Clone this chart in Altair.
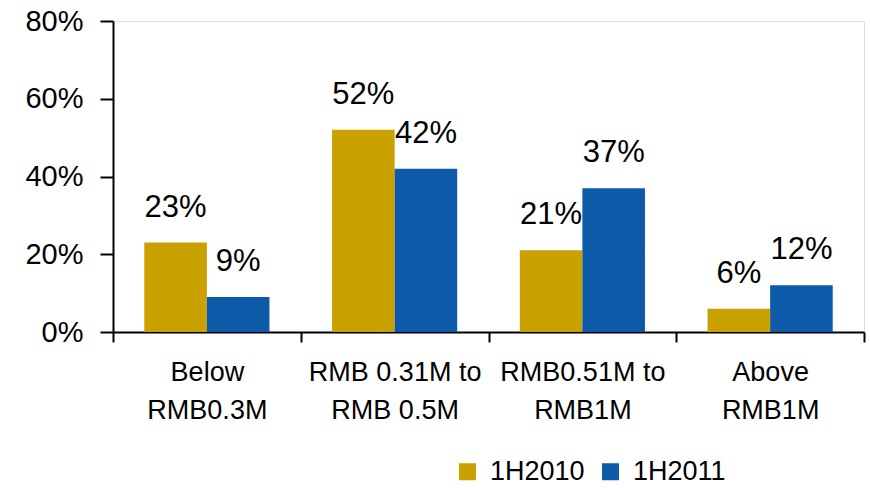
import altair as alt
import pandas as pd

# Price bands (line breaks marked with "|") and the two survey periods
categories = ["Below|RMB0.3M", "RMB 0.31M to|RMB 0.5M", "RMB0.51M to|RMB1M", "Above|RMB1M"]
series = ["1H2010", "1H2011"]
share_2010 = [0.23, 0.52, 0.21, 0.06]
share_2011 = [0.09, 0.42, 0.37, 0.12]
colors = ["#C9A100", "#0D5BA8"]

rows = []
for cat, a, b in zip(categories, share_2010, share_2011):
    rows.append({"band": cat, "period": series[0], "share": a})
    rows.append({"band": cat, "period": series[1], "share": b})
df = pd.DataFrame(rows)

FONT = "Liberation Sans"

x_enc = alt.X(
    "band:N",
    sort=categories,
    scale=alt.Scale(paddingInner=0, paddingOuter=0),
    axis=alt.Axis(
        title=None,
        labelExpr="split(datum.label, '|')",
        labelAngle=0,
        labelFont=FONT,
        labelFontSize=27,
        labelColor="#000000",
        labelLineHeight=38,
        labelPadding=17,
        labelBaseline="top",
        tickBand="extent",
        tickSize=10,
        tickWidth=2,
        tickColor="#000000",
        domainColor="#000000",
        domainWidth=2,
    ),
)
xoff_enc = alt.XOffset(
    "period:N", sort=series, scale=alt.Scale(paddingOuter=0.5, paddingInner=0)
)
y_enc = alt.Y(
    "share:Q",
    scale=alt.Scale(domain=[0, 0.8]),
    axis=alt.Axis(
        title=None,
        values=[0, 0.2, 0.4, 0.6, 0.8],
        format=".0%",
        grid=False,
        labelFont=FONT,
        labelFontSize=29,
        labelColor="#000000",
        labelPadding=17,
        tickSize=13,
        tickWidth=2,
        tickColor="#000000",
        domainColor="#000000",
        domainWidth=2,
    ),
)

bars = alt.Chart(df).mark_bar().encode(
    x=x_enc,
    xOffset=xoff_enc,
    y=y_enc,
    color=alt.Color(
        "period:N",
        sort=series,
        scale=alt.Scale(domain=series, range=colors),
        legend=alt.Legend(
            title=None,
            orient="none",
            direction="horizontal",
            legendX=341,
            legendY=437,
            symbolType="square",
            symbolSize=289,
            symbolStrokeWidth=0,
            labelFont=FONT,
            labelFontSize=27,
            labelColor="#000000",
            labelOffset=9,
            columnPadding=12,
        ),
    ),
)

labels = alt.Chart(df).mark_text(
    font=FONT, fontSize=31, color="#000000", baseline="bottom", dy=-19
).encode(
    x=alt.X("band:N", sort=categories),
    xOffset=alt.XOffset("period:N", sort=series),
    y=alt.Y("share:Q"),
    text=alt.Text("share:Q", format=".0%"),
)

chart = (
    alt.layer(bars, labels)
    .properties(
        width=751,
        height=311,
        autosize=alt.AutoSizeParams(type="none"),
        padding={"left": 113, "top": 21, "right": 6, "bottom": 156},
    )
    .configure_view(stroke=None)
    .configure(background="#ffffff")
)

chart.save("out.html", embed_options={"renderer": "svg", "actions": False})
